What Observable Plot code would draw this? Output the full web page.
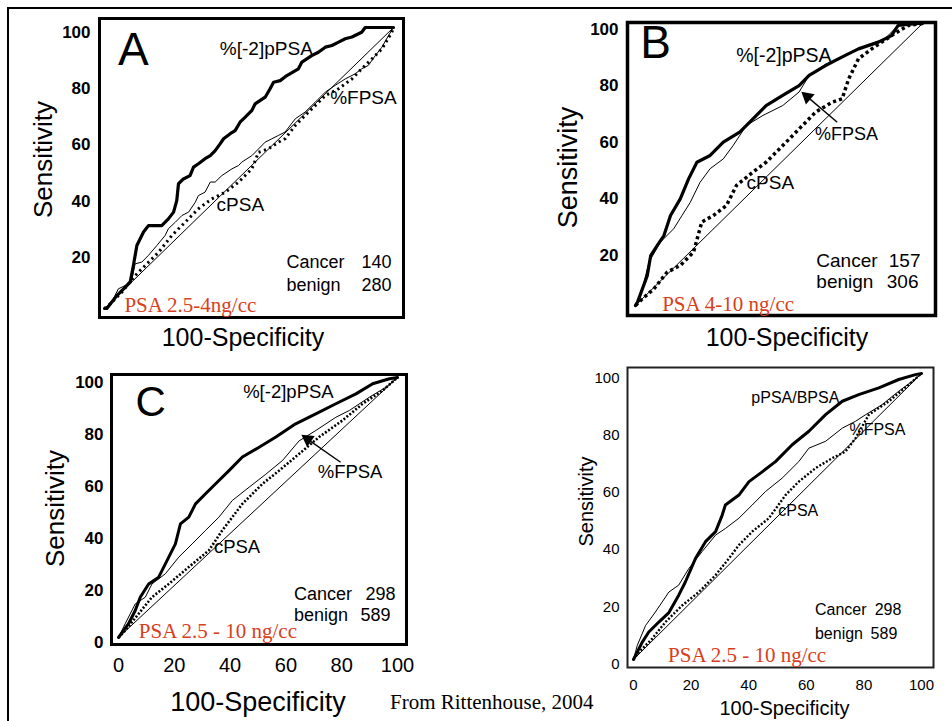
<!DOCTYPE html>
<html><head><meta charset="utf-8">
<script src="https://cdn.jsdelivr.net/npm/d3@7"></script>
<script src="https://cdn.jsdelivr.net/npm/@observablehq/plot@0.6"></script>
<style>
html,body{margin:0;padding:0;background:#fff;overflow:hidden}
#page{position:relative;width:952px;height:721px;overflow:hidden;background:#fff;font-family:"Liberation Sans",Arial,sans-serif}
#border{position:absolute;left:7px;top:7px;width:1000px;height:1000px;border-left:2px solid #000;border-top:2px solid #000}
.panel{position:absolute}
.panel svg{overflow:visible}
#caption{position:absolute;left:390px;top:692px;font-size:21px;font-family:"Liberation Serif","Times New Roman",serif;line-height:21px;white-space:nowrap;color:#000}
</style></head>
<body><div id="page"><div id="border"></div><div id="caption">From Rittenhouse, 2004</div></div>
<script>
// ---------- data: ROC curves, [100-Specificity, Sensitivity] ----------
const diagonal = [[0,0],[100,100]];

const A_p2PSA = [[0,0],[0.8,0],[4.3,4.6],[8.9,9.4],[10,15.3],[11.2,22.4],[13.5,27.2],[15.2,29.5],[19.8,29.5],[22.1,31.9],[23.9,34.3],[25,38.4],[25.6,44.4],[27.3,46.1],[29.6,47.3],[30.8,50.3],[32.5,51.5],[34.8,53.3],[36.6,54.4],[38.3,56.2],[40,58.6],[41.2,60.4],[43.5,62.2],[45.2,63.3],[46.9,66.3],[48.7,68.1],[51,70.5],[52.1,72.8],[55.6,75.2],[57.3,78.2],[58.5,80.5],[60.8,81.1],[63.1,82.9],[67.1,85.3],[68.3,87.7],[71.7,90],[74,91.2],[76.4,93],[78.7,93.6],[81,94.8],[83.3,96],[85.6,96.6],[89,98.3],[90.2,100],[99.4,100],[100,100]];
const A_cPSA = [[0,0],[2.5,2.3],[4.8,7],[7.2,8.2],[9.5,10.6],[10.6,15.9],[12.9,16.5],[15.2,18.9],[18.1,22.4],[21,26],[22.1,28.4],[24.5,30.7],[26.8,33.1],[29.1,34.3],[31.4,37.8],[32.5,40.2],[34.8,41.4],[36.6,45],[38.3,45],[40.6,47.3],[44.1,49.7],[46.4,50.9],[47.5,52.1],[51,54.4],[53.3,56.8],[55.6,59.2],[57.9,60.4],[60.2,61.6],[62.5,62.8],[66,67.5],[69.4,69.9],[72.9,73.4],[76.4,77],[79.8,79.4],[83.3,81.7],[86.7,83.5],[89,85.3],[91.3,86.5],[93.7,90],[96,93],[98.3,97.2],[100,100]];
const A_fPSA = [[0,0],[1.4,1.1],[6,5.8],[10.6,11.7],[14.1,15.3],[18.7,20],[23.3,26],[27.9,30.7],[32.5,35.5],[37.1,39],[41.8,41.4],[46.4,45],[51,49.7],[53.3,55.6],[56.7,56.8],[60.2,59.2],[62.5,60.4],[66,65.1],[69.4,68.7],[72.9,72.2],[76.4,75.8],[81,78.2],[85.6,81.7],[89,85.3],[92.5,88.8],[96,92.4],[99.4,98.3],[100,100]];

const B_p2PSA = [[0,0],[0.7,1.2],[2.4,5.9],[4.1,10.6],[5.3,17.7],[7.6,21.3],[9.9,24.8],[12.2,31.9],[15.6,37.8],[18.5,44.9],[21.4,50.8],[26,53.2],[30.6,57.9],[36.3,61.5],[39.8,65],[45.5,70.9],[51.3,74.5],[57,78],[60.5,81.6],[66.2,85.1],[73.1,88.7],[77.7,91],[84.6,93.4],[89.2,95.7],[91.5,99.3],[98.4,100],[100,100]];
const B_fPSA = [[0,0],[1.8,3.5],[4.7,15.4],[8.7,22.5],[13.3,27.2],[16.2,31.9],[19.1,36.6],[22.5,43.7],[26,48.5],[30.6,52],[34,56.7],[38.6,63.8],[44.4,67.4],[51.3,70.9],[57,75.7],[60.5,81.6],[66.2,85.5],[70.8,87.5],[77.7,91.2],[86.9,94.6],[91.5,99.3],[98.4,100],[100,100]];
const B_cPSA = [[0,0],[1.8,1.8],[6.4,5.9],[11,11.8],[15.6,14.2],[20.2,18.9],[23.1,29.6],[27.1,31.9],[31.7,35.5],[35.2,42.6],[40.9,47.3],[45.5,50.8],[51.3,56.7],[57,62.6],[62.8,68.6],[68.5,72.1],[72,73.3],[74.3,80.4],[77.7,87.5],[82.3,91],[89.2,95.7],[95,99.3],[100,100]];

const C_p2PSA = [[0,0],[3.6,5.3],[6,10.4],[7.8,15.5],[10.8,20.6],[14.4,23.2],[16.8,28.3],[20.4,36],[22.2,43.7],[25.2,46.3],[27.6,51.4],[31.2,55.3],[36,60.4],[39.6,64.2],[44.4,69.4],[50.4,73.2],[56.4,77.1],[63.5,82.2],[70.7,86],[77.9,89.9],[85.1,93.7],[91.1,97.6],[97.1,99.5],[100,100]];
const C_fPSA = [[0,0],[2.4,5.3],[6,12.9],[9.6,15.5],[12,20.6],[16.8,24.5],[21.6,30.9],[26.4,36],[31.2,41.2],[36,46.3],[40.8,52.7],[46.8,57.8],[52.8,62.8],[58.8,68.1],[64.7,75.6],[70.7,79.6],[77.9,84.7],[82.7,87.3],[89.9,92.4],[95.9,96.3],[100,100]];
const C_cPSA = [[0,0],[2.4,2.7],[7.2,9.1],[12,15.5],[18,20.6],[25.2,27.1],[32.4,33.5],[37.2,41.2],[44.4,51.4],[51.6,59.1],[57.6,64.2],[64.7,70.6],[71.9,77.1],[80.3,83.5],[87.5,89.9],[94.7,95],[100,100]];

const D_pBPSA = [[0,0],[3,6],[5.3,9.6],[8.8,13.1],[12.3,16.4],[15.7,22.5],[18,27.1],[21.5,35.3],[25,41.2],[28.5,44.7],[30.8,50.5],[31.9,54],[36.6,57.5],[40.1,62.2],[44.8,65.7],[49.3,69.2],[55.1,75.1],[60.9,79.8],[66.7,85.6],[72.5,90.3],[78.2,92.6],[85.2,95],[92.1,97.9],[97.9,99.6],[100,100]];
const D_fPSA = [[0,0],[1.3,4.9],[4.2,11.9],[7.6,16.6],[12.3,23.6],[15.7,26],[19.2,31.8],[23.8,37.7],[28.5,43.5],[31.9,45.8],[36.6,49.4],[41.2,54],[45.8,58.7],[51.6,63.4],[57.4,69.2],[60.9,73.9],[66.7,76.3],[72.5,80.9],[77.1,83.3],[80.6,85.6],[86.3,89.1],[92.1,93.8],[96.8,97.3],[100,100]];
const D_cPSA = [[0,0],[1.9,2.6],[6.5,7.3],[11.1,13.1],[16.9,18.9],[22.7,23.6],[28.5,29.5],[33.1,35.3],[36.6,40],[41.2,44.7],[47,49.4],[52.8,57.5],[57.4,62.2],[63.2,66.9],[69,70.4],[73.6,72.7],[77.1,77.4],[81.7,85.6],[88.7,90.3],[95.6,96.1],[100,100]];

// tick labels
const yTicksAB = [20, 40, 60, 80, 100];
const ticksCD = [0, 20, 40, 60, 80, 100];

// sample sizes and PSA ranges
const countsA = [["Cancer", 140], ["benign", 280]];
const countsB = [["Cancer", 157], ["benign", 306]];
const countsC = [["Cancer", 298], ["benign", 589]];
const countsD = [["Cancer", 298], ["benign", 589]];
const rangeA = "PSA 2.5-4ng/cc";
const rangeB = "PSA 4-10 ng/cc";
const rangeC = "PSA 2.5 - 10 ng/cc";
const rangeD = "PSA 2.5 - 10 ng/cc";

// ---------- layout / style ----------
const SANS = "Liberation Sans, Arial, sans-serif";
const SERIF = "Liberation Serif, Times New Roman, serif";
const RED = "#d8401c";

const panels = [
  {left:0, top:0, width:476, height:360, m:[27,83,52,104], inset:[-9,-10,-9,-5], frameW:3, frameC:"#000",
   yTicks:yTicksAB, yTickFont:17, yTickBold:true, yPad:14, yDy:5, xTicks:null,
   xTitle:{size:25, dx:-6, dy:29}, yTitle:{size:26, dx:-61, dy:-8.5},
   letter:{t:"A", x:10, y:91.8, size:46},
   curves:[{d:A_p2PSA, w:3.2}, {d:A_cPSA, w:1}, {d:A_fPSA, w:3, dash:"2.2,3.5"}],
   labels:[{t:"%[-2]pPSA", x:56, y:92.5, size:19},{t:"%FPSA", x:89.6, y:75.1, size:19},{t:"cPSA", x:47, y:36.7, size:19}],
   counts:countsA, cx:63, cy:[16.4,8.2], nx:[99.3,99.3], csize:18,
   range:rangeA, rx:6.9, ry:1.1, rsize:21},
  {left:476, top:0, width:476, height:360, m:[23,30,55,159], inset:[-1,-13,-10,-8], frameW:3.5, frameC:"#000",
   yTicks:yTicksAB, yTickFont:17, yTickBold:true, yPad:17, yDy:6, xTicks:null,
   xTitle:{size:25, dx:8, dy:32}, yTitle:{size:27, dx:-67, dy:3},
   letter:{t:"B", x:7, y:92.9, size:46},
   curves:[{d:B_p2PSA, w:3.2}, {d:B_fPSA, w:1}, {d:B_cPSA, w:3.5, dash:"3.2,3"}],
   labels:[{t:"%[-2]pPSA", x:51.7, y:88.7, size:19.5},{t:"%FPSA", x:73.5, y:60.8, size:18},{t:"cPSA", x:47, y:43.4, size:19}],
   arrow:[70.3,65,58.6,75.1],
   counts:countsB, cx:63, cy:[15.8,8.2], nx:[99.3,98.6], csize:19,
   range:rangeB, rx:9.3, ry:0.4, rsize:21},
  {left:0, top:360, width:476, height:361, m:[17,79,84,118], inset:[-3,-9,-7,-7], frameW:3, frameC:"#000",
   yTicks:ticksCD, yTickFont:17, yTickBold:true, yPad:15, yDy:5.5,
   xTicks:ticksCD, xTickFont:20, xPad:20,
   xTitle:{size:27, dx:0, dy:65}, yTitle:{size:26, dx:-63, dy:1},
   letter:{t:"C", x:11.5, y:90.4, size:42},
   curves:[{d:C_p2PSA, w:3}, {d:C_fPSA, w:1}, {d:C_cPSA, w:2.6, dash:"2,1.8"}],
   labels:[{t:"%[-2]pPSA", x:60.9, y:94.4, size:18.5},{t:"%FPSA", x:83, y:63.7, size:18.5},{t:"cPSA", x:42.5, y:34.8, size:18.5}],
   arrow:[79.6,67.4,66.4,77.3],
   counts:countsC, cx:62.9, cy:[16.7,8.5], nx:[99.3,97.5], csize:18,
   range:rangeC, rx:7.3, ry:2.3, rsize:21},
  {left:476, top:360, width:476, height:361, m:[13,31,62,157], inset:[-6,-12,-8,-6], frameW:2, frameC:"#222",
   yTicks:ticksCD, yTickFont:15, yTickBold:false, yPad:14, yDy:4.5,
   xTicks:ticksCD, xTickFont:15, xPad:20,
   xTitle:{size:20, dx:7, dy:49}, yTitle:{size:20, dx:-47, dy:-15},
   letter:null,
   curves:[{d:D_pBPSA, w:3}, {d:D_fPSA, w:1}, {d:D_cPSA, w:2.4, dash:"2,1.8"}],
   labels:[{t:"pPSA/BPSA", x:56.2, y:91.4, size:16},{t:"%FPSA", x:84.7, y:80.4, size:16},{t:"cPSA", x:57.2, y:51.8, size:16}],
   counts:countsD, cx:63, cy:[17.2,8.8], nx:[93,91.6], csize:16,
   range:rangeD, rx:12, ry:1.4, rsize:21}
];

function build(p) {
  const kx = (p.width - p.m[1] - p.m[3]) / 100;
  const ky = (p.height - p.m[0] - p.m[2]) / 100;
  const marks = [
    Plot.frame({stroke:p.frameC, strokeWidth:p.frameW,
      insetTop:p.inset[0], insetRight:p.inset[1], insetBottom:p.inset[2], insetLeft:p.inset[3]}),
    Plot.axisY(p.yTicks, {tickSize:0, tickPadding:p.yPad, fontSize:p.yTickFont,
      fontWeight:p.yTickBold ? "bold" : "normal", dy:p.yDy, label:null, tickFormat:d => String(d), fill:"#000"}),
    Plot.line(diagonal, {x:d => d[0], y:d => d[1], stroke:"#000", strokeWidth:1})
  ];
  if (p.xTicks) {
    marks.push(Plot.axisX(p.xTicks, {tickSize:0, tickPadding:p.xPad, fontSize:p.xTickFont, label:null, tickFormat:d => String(d), fill:"#000"}));
  }
  for (const c of p.curves) {
    marks.push(Plot.line(c.d, {x:d => d[0], y:d => d[1], stroke:"#000", strokeWidth:c.w,
      strokeDasharray:c.dash || null, strokeLinejoin:"round", strokeLinecap: c.dash ? "butt" : "round"}));
  }
  marks.push(Plot.text(["100-Specificity"], {frameAnchor:"bottom", dx:p.xTitle.dx, dy:p.xTitle.dy,
    lineAnchor:"middle", fontSize:p.xTitle.size, fontFamily:SANS, fill:"#000"}));
  marks.push(Plot.text(["Sensitivity"], {frameAnchor:"left", rotate:-90, dx:p.yTitle.dx, dy:p.yTitle.dy,
    textAnchor:"middle", lineAnchor:"middle", fontSize:p.yTitle.size, fontFamily:SANS, fill:"#000"}));
  if (p.letter) {
    marks.push(Plot.text([p.letter], {x:"x", y:"y", text:"t", fontSize:p.letter.size, lineAnchor:"middle", fontFamily:SANS, fill:"#000"}));
  }
  for (const l of p.labels) {
    marks.push(Plot.text([l], {x:"x", y:"y", text:"t", fontSize:l.size, lineAnchor:"middle", fontFamily:SANS, fill:"#000"}));
  }
  if (p.arrow) {
    const [x1, y1, x2, y2] = p.arrow;
    const sx = (x2 - x1) * kx, sy = -(y2 - y1) * ky;
    const ang = Math.atan2(sx, -sy) * 180 / Math.PI;
    const back = 0.12;
    marks.push(Plot.link([p.arrow], {x1:d => d[0], y1:d => d[1], x2:d => d[0] + (d[2]-d[0])*(1-back), y2:d => d[1] + (d[3]-d[1])*(1-back),
      stroke:"#000", strokeWidth:1.4}));
    marks.push(Plot.dot([p.arrow], {x:d => d[2] - (d[2]-d[0])*back*0.9, y:d => d[3] - (d[3]-d[1])*back*0.9,
      symbol:"triangle", r:5, rotate:ang, fill:"#000", stroke:"none"}));
  }
  p.counts.forEach((c, i) => {
    marks.push(Plot.text([c], {x:() => p.cx, y:() => p.cy[i], text:d => d[0], textAnchor:"start",
      lineAnchor:"middle", fontSize:p.csize, fontFamily:SANS, fill:"#000"}));
    marks.push(Plot.text([c], {x:() => p.nx[i], y:() => p.cy[i], text:d => String(d[1]), textAnchor:"end",
      lineAnchor:"middle", fontSize:p.csize, fontFamily:SANS, fill:"#000"}));
  });
  marks.push(Plot.text([p.range], {x:() => p.rx, y:() => p.ry, text:d => d, textAnchor:"start",
    lineAnchor:"middle", fontSize:p.rsize, fontFamily:SERIF, fill:RED}));

  const svg = Plot.plot({
    width:p.width, height:p.height,
    marginTop:p.m[0], marginRight:p.m[1], marginBottom:p.m[2], marginLeft:p.m[3],
    x:{domain:[0,100], axis:p.xTicks ? undefined : null},
    y:{domain:[0,100]},
    style:{background:"transparent", fontFamily:SANS, color:"#000", overflow:"visible"},
    marks
  });
  const div = document.createElement("div");
  div.className = "panel";
  div.style.left = p.left + "px";
  div.style.top = p.top + "px";
  div.appendChild(svg);
  document.getElementById("page").appendChild(div);
}
panels.forEach(build);
</script>
</body></html>
